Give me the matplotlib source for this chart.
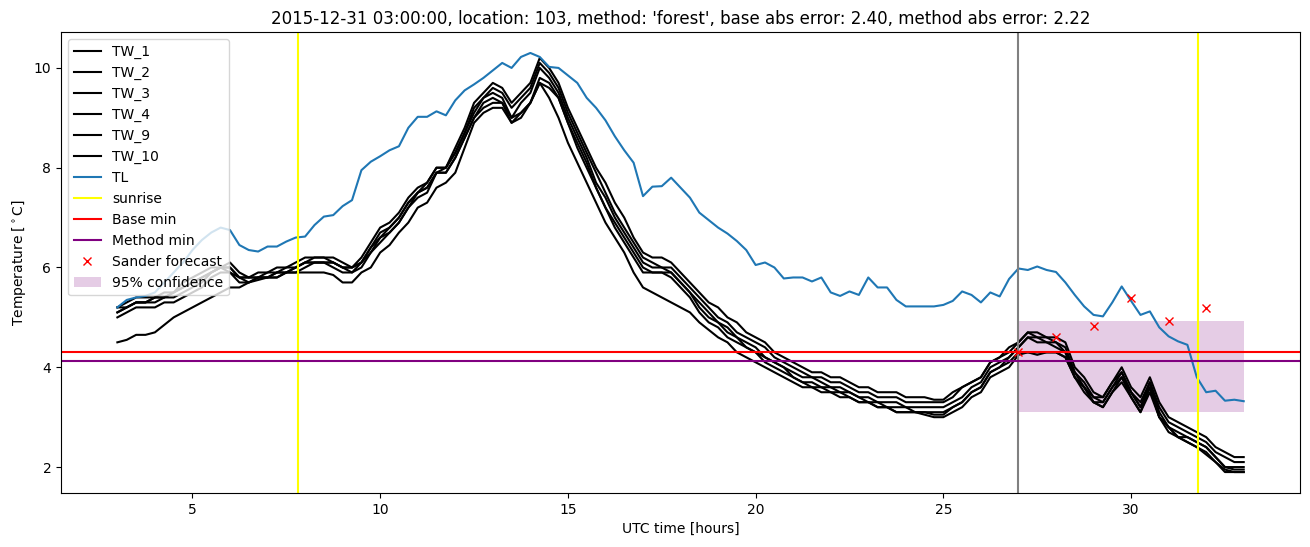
# temperature forecast plot: wall sensors (TW), air temp (TL), forecast points

import numpy as np
import matplotlib.pyplot as plt

# time axis, hours UTC (every 15 min from 03:00 to 33:00)
hours = np.linspace(3, 33, 121)

tw_1 = [5.2, 5.3, 5.4, 5.4,   5.4, 5.5, 5.5, 5.7,   5.8, 5.9, 6.0, 6.0,   6.1, 5.9, 5.8, 5.9,
        5.9, 6.0, 6.0, 6.1,   6.2, 6.2, 6.2, 6.2,   6.1, 6.0, 6.2, 6.5,   6.8, 6.9, 7.1, 7.4,
        7.6, 7.7, 8.0, 8.0,   8.4, 8.8, 9.3, 9.5,   9.7, 9.6, 9.3, 9.5,   9.7, 10.2, 10.0, 9.7,
        9.2, 8.8, 8.4, 8.0,   7.7, 7.3, 7.0, 6.6,   6.3, 6.2, 6.2, 6.1,   5.9, 5.7, 5.5, 5.3,
        5.2, 5.0, 4.9, 4.7,   4.6, 4.5, 4.3, 4.2,   4.1, 4.0, 3.9, 3.9,   3.8, 3.8, 3.7, 3.6,
        3.6, 3.5, 3.5, 3.5,   3.4, 3.4, 3.4, 3.35,  3.35, 3.5, 3.6, 3.7,  3.8, 4.1, 4.2, 4.4,
        4.5, 4.7, 4.7, 4.6,   4.6, 4.5, 4.0, 3.8,   3.5, 3.4, 3.7, 4.0,   3.6, 3.4, 3.8, 3.3,
        3.0, 2.9, 2.8, 2.7,   2.6, 2.4, 2.3, 2.2,   2.2]
tw_2 = [5.1, 5.2, 5.3, 5.3,   5.4, 5.4, 5.5, 5.6,   5.7, 5.8, 5.9, 6.0,   6.0, 5.8, 5.8, 5.8,
        5.9, 5.9, 6.0, 6.0,   6.1, 6.2, 6.2, 6.1,   6.0, 6.0, 6.1, 6.4,   6.7, 6.8, 7.0, 7.3,
        7.5, 7.7, 8.0, 8.0,   8.3, 8.7, 9.2, 9.4,   9.6, 9.5, 9.2, 9.4,   9.6, 10.1, 9.9, 9.6,
        9.1, 8.7, 8.3, 7.9,   7.5, 7.1, 6.8, 6.5,   6.2, 6.1, 6.0, 6.0,   5.8, 5.6, 5.4, 5.2,
        5.0, 4.9, 4.7, 4.6,   4.5, 4.4, 4.2, 4.1,   4.0, 3.9, 3.8, 3.8,   3.7, 3.7, 3.6, 3.5,
        3.5, 3.4, 3.4, 3.4,   3.3, 3.3, 3.3, 3.3,   3.3, 3.4, 3.6, 3.7,   3.8, 4.1, 4.2, 4.3,
        4.5, 4.7, 4.6, 4.6,   4.5, 4.4, 3.9, 3.7,   3.4, 3.4, 3.7, 3.9,   3.5, 3.3, 3.7, 3.2,
        2.9, 2.8, 2.7, 2.6,   2.5, 2.3, 2.2, 2.1,   2.1]
tw_3 = [5.1, 5.2, 5.3, 5.3,   5.3, 5.4, 5.4, 5.5,   5.6, 5.7, 5.9, 6.0,   6.0, 5.8, 5.8, 5.8,
        5.8, 5.9, 5.9, 6.0,   6.1, 6.1, 6.1, 6.1,   6.0, 5.9, 6.1, 6.4,   6.6, 6.8, 7.0, 7.3,
        7.5, 7.6, 7.9, 8.0,   8.3, 8.7, 9.1, 9.4,   9.5, 9.4, 9.0, 9.3,   9.5, 10.0, 9.8, 9.5,
        9.0, 8.6, 8.2, 7.7,   7.4, 7.0, 6.7, 6.4,   6.1, 6.0, 6.0, 5.9,   5.7, 5.5, 5.3, 5.1,
        4.9, 4.8, 4.6, 4.5,   4.4, 4.2, 4.1, 4.0,   3.9, 3.8, 3.8, 3.7,   3.6, 3.6, 3.5, 3.4,
        3.4, 3.3, 3.3, 3.3,   3.2, 3.2, 3.2, 3.2,   3.2, 3.3, 3.4, 3.6,   3.7, 4.0, 4.1, 4.2,
        4.4, 4.6, 4.6, 4.5,   4.5, 4.3, 3.9, 3.6,   3.4, 3.3, 3.6, 3.9,   3.5, 3.2, 3.7, 3.1,
        2.8, 2.7, 2.6, 2.5,   2.4, 2.2, 2.0, 2.0,   2.0]
tw_4 = [5.0, 5.1, 5.2, 5.2,   5.2, 5.3, 5.3, 5.4,   5.5, 5.6, 5.8, 5.9,   5.9, 5.7, 5.7, 5.8,
        5.8, 5.8, 5.9, 5.9,   6.0, 6.1, 6.1, 6.0,   5.9, 5.9, 6.0, 6.3,   6.5, 6.7, 6.9, 7.2,
        7.4, 7.5, 7.9, 7.9,   8.2, 8.6, 9.0, 9.3,   9.4, 9.3, 8.9, 9.1,   9.3, 9.8, 9.7, 9.4,
        8.9, 8.4, 8.0, 7.6,   7.2, 6.8, 6.5, 6.2,   5.9, 5.9, 5.9, 5.8,   5.6, 5.4, 5.1, 4.9,
        4.8, 4.6, 4.5, 4.4,   4.3, 4.1, 4.0, 3.9,   3.8, 3.7, 3.6, 3.6,   3.5, 3.5, 3.4, 3.3,
        3.3, 3.2, 3.2, 3.1,   3.1, 3.1, 3.1, 3.05,  3.05, 3.2, 3.3, 3.5,  3.6, 3.9, 4.0, 4.1,
        4.3, 4.3, 4.3, 4.3,   4.3, 4.2, 3.8, 3.6,   3.3, 3.2, 3.5, 3.8,   3.4, 3.1, 3.6, 3.0,
        2.8, 2.6, 2.5, 2.4,   2.3, 2.1, 1.95, 1.9,  1.9]
tw_9 = [4.5, 4.55, 4.65, 4.65, 4.7, 4.85, 5.0, 5.1,  5.2, 5.3, 5.4, 5.5,   5.6, 5.6, 5.7, 5.75,
        5.8, 5.8, 5.9, 5.9,   5.9, 5.9, 5.9, 5.85,  5.7, 5.7, 5.9, 6.0,   6.3, 6.45, 6.7, 6.9,
        7.2, 7.3, 7.6, 7.7,   7.9, 8.4, 8.9, 9.1,   9.2, 9.2, 8.9, 9.0,   9.3, 9.7, 9.4, 9.0,
        8.5, 8.1, 7.7, 7.3,   6.9, 6.6, 6.3, 5.9,   5.6, 5.5, 5.4, 5.3,   5.2, 5.1, 4.9, 4.75,
        4.6, 4.5, 4.3, 4.2,   4.1, 4.0, 3.9, 3.8,   3.7, 3.6, 3.6, 3.5,   3.5, 3.4, 3.4, 3.3,
        3.3, 3.2, 3.2, 3.1,   3.1, 3.1, 3.05, 3.0,  3.0, 3.1, 3.2, 3.4,   3.5, 3.8, 3.9, 4.0,
        4.25, 4.3, 4.25, 4.3, 4.3, 4.2, 3.8, 3.5,   3.3, 3.2, 3.5, 3.7,   3.4, 3.1, 3.5, 3.0,
        2.7, 2.6, 2.5, 2.4,   2.25, 2.1, 1.9, 1.9,  1.9]
tw_10 = [5.2, 5.2, 5.3, 5.3,  5.4, 5.4, 5.5, 5.6,   5.7, 5.8, 5.9, 6.0,   5.9, 5.8, 5.7, 5.8,
         5.8, 5.9, 5.9, 6.0,  6.1, 6.1, 6.1, 6.1,   6.0, 6.0, 6.1, 6.3,   6.6, 6.7, 6.9, 7.2,
         7.5, 7.6, 7.9, 7.9,  8.2, 8.6, 9.0, 9.2,   9.3, 9.3, 9.0, 9.1,   9.3, 9.7, 9.6, 9.4,
         8.9, 8.5, 8.1, 7.6,  7.2, 6.9, 6.6, 6.3,   6.0, 5.9, 5.9, 5.9,   5.7, 5.5, 5.2, 5.0,
         4.9, 4.7, 4.6, 4.4,  4.3, 4.2, 4.1, 4.0,   3.8, 3.7, 3.7, 3.6,   3.6, 3.5, 3.5, 3.4,
         3.3, 3.3, 3.2, 3.2,  3.2, 3.1, 3.1, 3.1,   3.1, 3.2, 3.3, 3.5,   3.6, 3.9, 4.0, 4.2,
         4.4, 4.6, 4.5, 4.5,  4.4, 4.3, 3.8, 3.6,   3.3, 3.3, 3.6, 3.8,   3.5, 3.2, 3.6, 3.0,
         2.8, 2.6, 2.6, 2.5,  2.4, 2.2, 2.0, 1.95,  1.95]
tl = [5.2, 5.35, 5.4, 5.43,  5.5, 5.7, 5.9, 6.1,   6.35, 6.55, 6.7, 6.8,  6.75, 6.45, 6.35, 6.32,
      6.42, 6.42, 6.52, 6.6, 6.62, 6.85, 7.02, 7.05, 7.23, 7.35, 7.95, 8.12, 8.23, 8.35, 8.43, 8.8,
      9.02, 9.02, 9.13, 9.05, 9.35, 9.55, 9.67, 9.8, 9.95, 10.1, 10.0, 10.22, 10.3, 10.22, 10.02, 10.0,
      9.85, 9.7, 9.4, 9.2,  8.95, 8.63, 8.35, 8.1,  7.43, 7.62, 7.63, 7.8,  7.6, 7.4, 7.1, 6.95,
      6.8, 6.68, 6.53, 6.35, 6.05, 6.1, 6.0, 5.78,  5.8, 5.8, 5.72, 5.8,   5.5, 5.43, 5.52, 5.45,
      5.8, 5.6, 5.6, 5.35,  5.22, 5.22, 5.22, 5.22, 5.25, 5.33, 5.52, 5.45, 5.3, 5.5, 5.42, 5.77,
      5.98, 5.95, 6.02, 5.95, 5.91, 5.7, 5.45, 5.22, 5.05, 5.02, 5.3, 5.62, 5.33, 5.05, 5.12, 4.8,
      4.62, 4.52, 4.45, 3.8, 3.5, 3.53, 3.33, 3.35, 3.32]

tw_series = [('TW_1', tw_1), ('TW_2', tw_2), ('TW_3', tw_3),
             ('TW_4', tw_4), ('TW_9', tw_9), ('TW_10', tw_10)]

# forecast
forecast_time = 27
sunrise = [7.81, 31.77]
base_min = 4.31
method_min = 4.13
sander_hours = [27, 28, 29, 30, 31, 32]
sander_temp = [4.30, 4.61, 4.82, 5.38, 4.92, 5.18]
conf_hours = [27, 33]
conf_low = 3.11
conf_high = 4.93

fig, ax = plt.subplots(figsize=(13.1, 5.47), dpi=100)
fig.subplots_adjust(left=0.0466, right=0.9924, top=0.9415, bottom=0.0987)

for name, vals in tw_series:
    ax.plot(hours, vals, c='black', label=name)
ax.plot(hours, tl, label='TL')

ax.axvline(sunrise[0], color='yellow', label='sunrise')
ax.axvline(sunrise[1], color='yellow')
ax.axvline(forecast_time, color='gray')
ax.axhline(base_min, color='red', label='Base min')
ax.axhline(method_min, color='purple', label='Method min')
ax.plot(sander_hours, sander_temp, 'x', color='red', label='Sander forecast')
ax.fill_between(conf_hours, conf_low, conf_high, color='purple', alpha=0.2,
                linewidth=0, label='95% confidence')

ax.set_xlabel('UTC time [hours]')
ax.set_ylabel(r'Temperature [$^\circ$C]')
ax.set_title("2015-12-31 03:00:00, location: 103, method: 'forest', "
             "base abs error: 2.40, method abs error: 2.22")
ax.legend(loc='upper left')

plt.savefig('out.png')
